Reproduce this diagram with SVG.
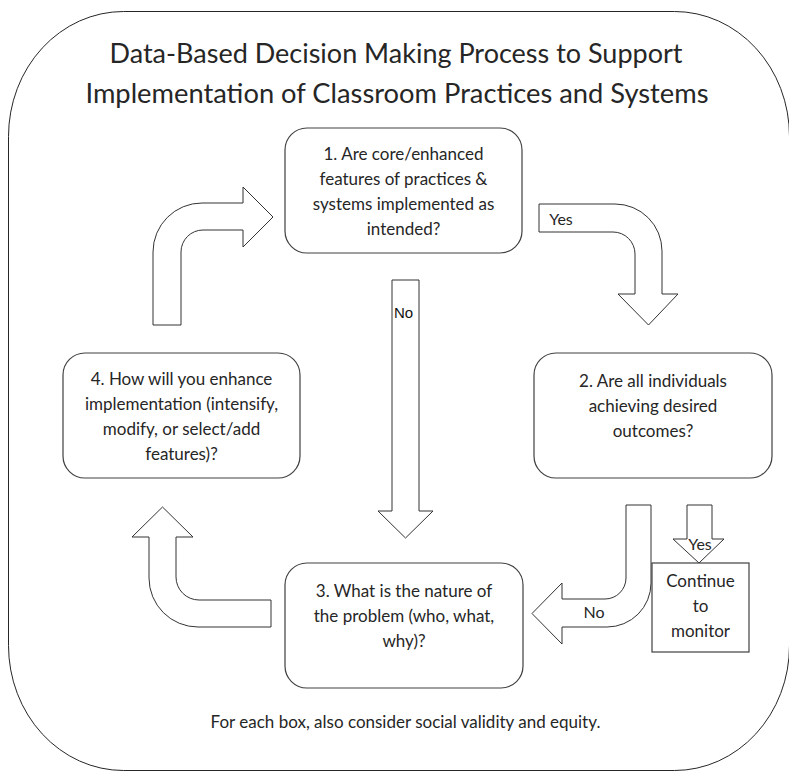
<svg xmlns="http://www.w3.org/2000/svg" width="789" height="772" viewBox="0 0 789 772">
<style>
.frame{fill:#fff;stroke:#262626;stroke-width:1}
.box{fill:#fff;stroke:#404040;stroke-width:1.2}
.arr{fill:#fff;stroke:#333;stroke-width:1}
.t{font-family:Lato,'Open Sans',sans-serif;fill:#262626;text-anchor:middle}
.title{font-size:27px}
.bt{font-size:17px}
.lbl{font-size:16px}
.arial{font-family:'Liberation Sans',Arial,sans-serif;font-size:15px;fill:#111}
</style>
<rect width="789" height="772" fill="#fff"/>
<g id="frame">
<rect class="frame" x="8.5" y="11.5" width="781" height="759" rx="115" ry="125"/>
</g>
<g id="title">
<text class="t title" x="396" y="63">Data-Based Decision Making Process to Support</text>
<text class="t title" x="397" y="103" style="font-size:27.3px">Implementation of Classroom Practices and Systems</text>
</g>
<g id="connectors">
<path class="arr" d="M539,204 H615 A47,47 0 0 1 662,251 V294 H678 L648.5,325 L618,294 H635 V254 A22,22 0 0 0 613,232 H539 Z"/>
<text class="t lbl" x="561" y="225">Yes</text>
<path class="arr" d="M392,280 H419 V511 H433 L405.5,538 L378,511 H392 Z"/>
<text class="arial" x="394" y="318">No</text>
<path class="arr" d="M626,505 H651 V583 A44,44 0 0 1 607,627 H562 V644 L532,613.5 L562,583 V599 H605 A21,21 0 0 0 626,578 Z"/>
<text class="t lbl" x="594" y="618">No</text>
<path class="arr" d="M687,505 H712 V539 H724 L699,563 L673,539 H687 Z"/>
<text class="t lbl" x="700" y="550">Yes</text>
<path class="arr" d="M271,600 V627 H198 A49,49 0 0 1 149,578 V537 H132 L162.5,507 L193,537 H176 V577 A23,23 0 0 0 199,600 Z"/>
<path class="arr" d="M153,325 V252 A49,49 0 0 1 202,203 H243 V187 L273,217 L243,247 V230 H203 A22,22 0 0 0 181,252 V325 Z"/>
</g>
<g id="box1">
<rect class="box" x="285" y="128" width="237" height="125" rx="22"/>
<text class="t bt" x="403.5" y="160">1. Are core/enhanced</text>
<text class="t bt" x="403.5" y="185">features of practices &amp;</text>
<text class="t bt" x="403.5" y="210">systems implemented as</text>
<text class="t bt" x="403.5" y="235">intended?</text>
</g>
<g id="box2">
<rect class="box" x="534" y="353" width="238" height="125" rx="22"/>
<text class="t bt" x="653" y="387">2. Are all individuals</text>
<text class="t bt" x="653" y="412">achieving desired</text>
<text class="t bt" x="653" y="437">outcomes?</text>
</g>
<g id="box3">
<rect class="box" x="285" y="563" width="238" height="125" rx="22"/>
<text class="t bt" x="404" y="597">3. What is the nature of</text>
<text class="t bt" x="404" y="622">the problem (who, what,</text>
<text class="t bt" x="404" y="647">why)?</text>
</g>
<g id="box4">
<rect class="box" x="63" y="353" width="237" height="125" rx="22"/>
<text class="t bt" x="181.5" y="385">4. How will you enhance</text>
<text class="t bt" x="181.5" y="410">implementation (intensify,</text>
<text class="t bt" x="181.5" y="435">modify, or select/add</text>
<text class="t bt" x="181.5" y="460">features)?</text>
</g>
<g id="monitor">
<rect class="box" x="652" y="563" width="97" height="89"/>
<text class="t bt" x="700.5" y="587">Continue</text>
<text class="t bt" x="700.5" y="612">to</text>
<text class="t bt" x="700.5" y="637">monitor</text>
</g>
<g id="note">
<text class="t" style="font-size:17px" x="405.5" y="728">For each box, also consider social validity and equity.</text>
</g>
</svg>
